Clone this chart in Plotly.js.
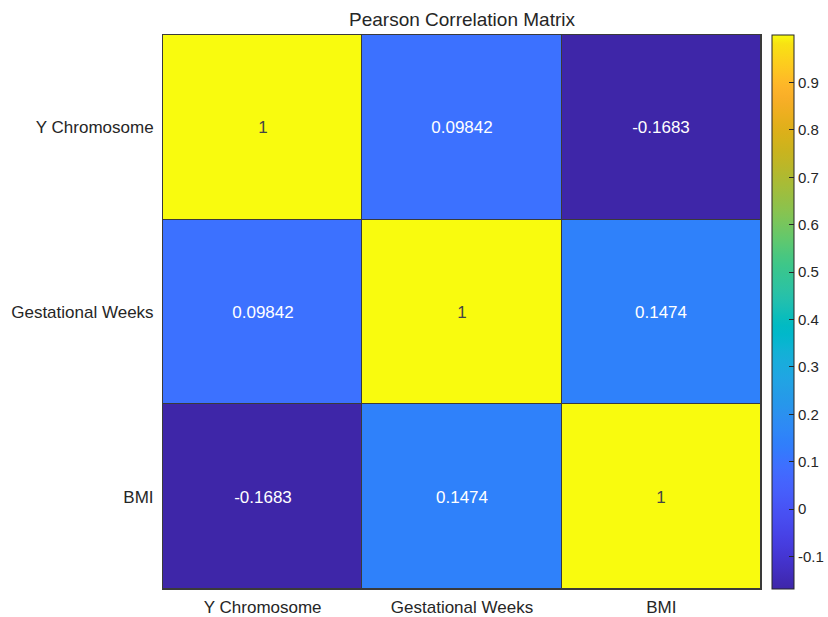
<!DOCTYPE html>
<html>
<head>
<meta charset="utf-8">
<script src="https://cdn.plot.ly/plotly-3.0.1.min.js"></script>
<style>html,body{margin:0;padding:0;background:#fff;}#chart{width:828px;height:617px;}</style>
</head>
<body>
<div id="chart"></div>
<script>
// Data
var variables = ["Y Chromosome", "Gestational Weeks", "BMI"];
var row1 = [1, 0.09842, -0.1683];
var row2 = [0.09842, 1, 0.1474];
var row3 = [-0.1683, 0.1474, 1];
var colorbarTicks = [-0.1, 0, 0.1, 0.2, 0.3, 0.4, 0.5, 0.6, 0.7, 0.8, 0.9];
var colorbarTickLabels = ["-0.1", "0", "0.1", "0.2", "0.3", "0.4", "0.5", "0.6", "0.7", "0.8", "0.9"];

// Parula colormap (style)
var parula = [
[0.2422,0.1504,0.6603],[0.2504,0.1650,0.7076],[0.2578,0.1818,0.7511],[0.2647,0.1978,0.7952],
[0.2706,0.2147,0.8364],[0.2751,0.2342,0.8710],[0.2783,0.2559,0.8991],[0.2803,0.2782,0.9221],
[0.2813,0.3006,0.9414],[0.2810,0.3228,0.9579],[0.2795,0.3447,0.9717],[0.2760,0.3667,0.9829],
[0.2699,0.3892,0.9906],[0.2602,0.4123,0.9952],[0.2440,0.4358,0.9988],[0.2206,0.4603,0.9973],
[0.1963,0.4847,0.9892],[0.1834,0.5074,0.9798],[0.1786,0.5289,0.9682],[0.1764,0.5499,0.9520],
[0.1687,0.5703,0.9359],[0.1540,0.5902,0.9218],[0.1460,0.6091,0.9079],[0.1380,0.6276,0.8973],
[0.1248,0.6459,0.8883],[0.1113,0.6635,0.8763],[0.0952,0.6798,0.8598],[0.0689,0.6948,0.8394],
[0.0297,0.7082,0.8163],[0.0036,0.7199,0.7909],[0.0067,0.7300,0.7637],[0.0433,0.7394,0.7350],
[0.0964,0.7470,0.7046],[0.1408,0.7538,0.6727],[0.1717,0.7607,0.6396],[0.1938,0.7674,0.6055],
[0.2161,0.7735,0.5701],[0.2470,0.7791,0.5335],[0.2906,0.7821,0.4963],[0.3406,0.7833,0.4586],
[0.3909,0.7824,0.4209],[0.4424,0.7774,0.3835],[0.4895,0.7714,0.3467],[0.5354,0.7633,0.3112],
[0.5760,0.7545,0.2777],[0.6155,0.7449,0.2462],[0.6536,0.7357,0.2160],[0.6913,0.7267,0.1886],
[0.7283,0.7173,0.1612],[0.7634,0.7088,0.1365],[0.7980,0.7025,0.1180],[0.8311,0.6966,0.1065],
[0.8641,0.6912,0.1034],[0.8954,0.6869,0.1091],[0.9245,0.6863,0.1213],[0.9528,0.6842,0.1394],
[0.9759,0.6880,0.1580],[0.9934,0.7059,0.1619],[0.9955,0.7382,0.1474],[0.9930,0.7756,0.1294],
[0.9874,0.8127,0.1144],[0.9807,0.8495,0.0942],[0.9739,0.8880,0.0729],[0.9763,0.9831,0.0538]
];
var colorscale = parula.map(function(c, i){
  return [i/(parula.length-1), 'rgb(' + Math.round(c[0]*255) + ',' + Math.round(c[1]*255) + ',' + Math.round(c[2]*255) + ')'];
});

var z = [row1, row2, row3];
var text = z.map(function(r){ return r.map(function(v){ return String(+v.toPrecision(4)); }); });
var zAll = row1.concat(row2, row3);
var zmin = Math.min.apply(null, zAll), zmax = Math.max.apply(null, zAll);

var font = "Liberation Sans, Arial, Helvetica, sans-serif";

var trace = {
  type: 'heatmap',
  x: variables,
  y: variables,
  z: z,
  text: text,
  texttemplate: '%{text}',
  textfont: {family: font, size: 17},
  colorscale: colorscale,
  zmin: zmin, zmax: zmax,
  xgap: 1, ygap: 1,
  hoverinfo: 'none',
  colorbar: {
    x: (772 - 163) / 598, xanchor: 'left', xpad: 0,
    y: 0, yanchor: 'bottom', ypad: 0,
    len: 1, lenmode: 'fraction',
    thickness: 22, thicknessmode: 'pixels',
    outlinecolor: '#262626', outlinewidth: 1,
    tickmode: 'array', tickvals: colorbarTicks, ticktext: colorbarTickLabels,
    ticks: 'inside', ticklen: 5, tickcolor: '#262626',
    tickfont: {family: font, size: 15, color: '#262626'}
  }
};

var layout = {
  width: 828, height: 617,
  margin: {l: 163, r: 67, t: 35, b: 28, autoexpand: false},
  paper_bgcolor: '#ffffff',
  plot_bgcolor: '#3a3a3a',
  title: {
    text: 'Pearson Correlation Matrix',
    font: {family: font, size: 19, color: '#262626'},
    x: 0.5, xref: 'paper', xanchor: 'center',
    y: 1 - 19/617, yref: 'container', yanchor: 'middle'
  },
  xaxis: {
    type: 'category', showgrid: false, zeroline: false,
    showline: true, linecolor: '#3a3a3a', linewidth: 1, mirror: true,
    ticks: 'outside', ticklen: 3, tickcolor: 'rgba(0,0,0,0)',
    tickfont: {family: font, size: 17, color: '#262626'}
  },
  yaxis: {
    type: 'category', autorange: 'reversed', showgrid: false, zeroline: false,
    showline: true, linecolor: '#3a3a3a', linewidth: 1, mirror: true,
    ticks: 'outside', ticklen: 5, tickcolor: 'rgba(0,0,0,0)',
    tickfont: {family: font, size: 17, color: '#262626'}
  }
};

Plotly.newPlot('chart', [trace], layout, {displayModeBar: false, staticPlot: true});
</script>
</body>
</html>
